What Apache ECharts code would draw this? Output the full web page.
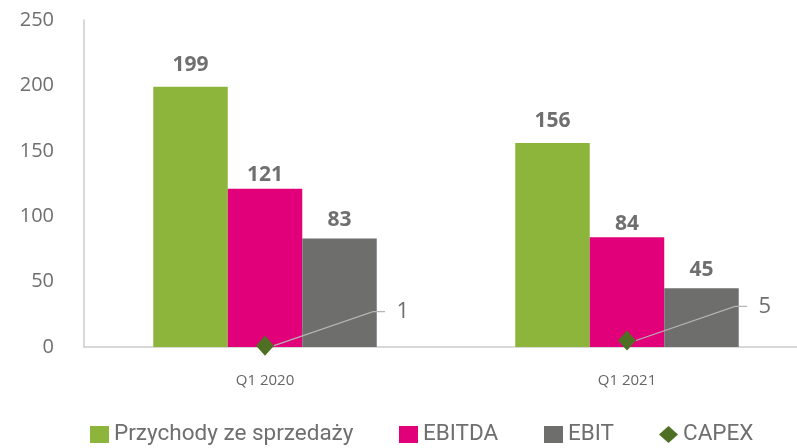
<!DOCTYPE html>
<html>
<head>
<meta charset="utf-8">
<script src="https://cdn.jsdelivr.net/npm/echarts@6/dist/echarts.min.js"></script>
<style>
  html, body { margin: 0; padding: 0; background: #fff; overflow: hidden; }
  #chart { width: 808px; height: 448px; }
</style>
</head>
<body>
<div id="chart"></div>
<script>
// dane
var categories = ['Q1 2020', 'Q1 2021'];
var przychody = [199, 156];
var ebitda = [121, 84];
var ebit = [83, 45];
var capex = [1, 5];

var myChart = echarts.init(document.getElementById('chart'));

function barLabel(distance) {
    return {
        show: true,
        position: 'top',
        distance: distance,
        color: '#6f6f6f',
        fontFamily: 'Open Sans',
        fontWeight: 'bold',
        fontSize: 21
    };
}

// jedna legenda na pozycję, żeby odstępy były jak w oryginale
function legendItem(name, icon, left) {
    return {
        bottom: 2,
        left: left,
        padding: 0,
        itemWidth: 19,
        itemHeight: 17,
        textStyle: {
            fontFamily: 'Roboto',
            fontSize: 22.5,
            color: '#6f6f6f'
        },
        data: [{ name: name, icon: icon }]
    };
}

var option = {
    animation: false,
    textStyle: { fontFamily: 'Open Sans' },
    grid: {
        left: 84,
        top: 20,
        right: 0,
        bottom: 101
    },
    legend: [
        legendItem('Przychody ze sprzedaży', 'rect', 90),
        legendItem('EBITDA', 'rect', 399),
        legendItem('EBIT', 'rect', 544),
        legendItem('CAPEX', 'diamond', 659)
    ],
    xAxis: {
        type: 'category',
        data: categories,
        axisLine: { lineStyle: { color: '#cccccc', width: 1.5 } },
        axisTick: { show: false },
        axisLabel: {
            color: '#666666',
            fontSize: 15,
            margin: 26
        }
    },
    yAxis: {
        type: 'value',
        min: 0,
        max: 250,
        interval: 50,
        axisLine: { show: true, lineStyle: { color: '#cccccc', width: 1.5 } },
        axisTick: { show: false },
        splitLine: { show: false },
        axisLabel: {
            color: '#6f6f6f',
            fontSize: 20,
            margin: 30
        }
    },
    series: [{
            name: 'Przychody ze sprzedaży',
            type: 'bar',
            barWidth: 74.5,
            barGap: '0%',
            data: przychody,
            itemStyle: { color: '#8db53c' },
            label: barLabel(11)
        },
        {
            name: 'EBITDA',
            type: 'bar',
            barWidth: 74.5,
            barGap: '0%',
            data: ebitda,
            itemStyle: { color: '#e2007a' },
            label: barLabel(3)
        },
        {
            name: 'EBIT',
            type: 'bar',
            barWidth: 74.5,
            barGap: '0%',
            data: ebit,
            itemStyle: { color: '#6e6e6d' },
            label: barLabel(8)
        },
        {
            name: 'CAPEX',
            type: 'scatter',
            symbol: 'diamond',
            symbolSize: [18, 20],
            data: capex,
            z: 5,
            itemStyle: { color: '#4f7023', opacity: 1 },
            label: {
                show: true,
                position: 'inside',
                color: '#6f6f6f',
                fontSize: 22,
                formatter: function(p) {
                    return '  ' + p.value;
                }
            },
            labelLayout: { dx: 132, dy: -34 },
            labelLine: {
                show: true,
                length2: 12,
                lineStyle: { color: '#b4b4b4', width: 1.2 }
            }
        }
    ]
};
myChart.setOption(option);
</script>
</body>
</html>
